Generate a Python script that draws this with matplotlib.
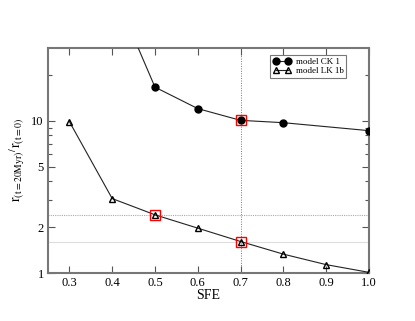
import matplotlib
matplotlib.use("Agg")
import matplotlib.pyplot as plt
from matplotlib.ticker import FixedLocator, NullFormatter

# data
sfe_ck = [0.4, 0.5, 0.6, 0.7, 0.8, 1.0]
ratio_ck = [75.0, 16.6, 12.0, 10.05, 9.7, 8.6]
sfe_lk = [0.3, 0.4, 0.5, 0.6, 0.7, 0.8, 0.9, 1.0]
ratio_lk = [9.85, 3.08, 2.41, 1.97, 1.61, 1.33, 1.135, 1.01]
mark_x = [0.5, 0.7, 0.7]
mark_y = [2.41, 1.61, 10.05]
hline_dotted = 2.41
hline_solid = 1.61
vline_x = 0.7

plt.rcParams["font.family"] = "serif"
plt.rcParams["font.serif"] = ["Liberation Serif"]
plt.rcParams["mathtext.fontset"] = "stix"

fig = plt.figure(figsize=(4.15, 3.21), dpi=100)
ax = fig.add_axes([0.1157, 0.1495, 0.7733, 0.701])

ax.axvline(vline_x, color="#777777", linestyle=(0, (1, 1.5)), linewidth=0.7, zorder=1)
ax.axhline(hline_dotted, color="#aaaaaa", linestyle=(0, (1, 1)), linewidth=0.8, zorder=1)
ax.axhline(hline_solid, color="#dddddd", linewidth=0.8, zorder=1)

ax.plot(sfe_ck, ratio_ck, color="#222222", linewidth=0.8, marker="o", markersize=5,
        markerfacecolor="black", markeredgecolor="black", label="model CK 1", zorder=3)
ax.plot(sfe_lk, ratio_lk, color="#222222", linewidth=0.8, marker="^", markersize=5,
        markerfacecolor="none", markeredgecolor="black", markeredgewidth=1.0,
        label="model LK 1b", zorder=3)
ax.plot(mark_x, mark_y, linestyle="none", marker="s", markersize=7.5,
        markerfacecolor="none", markeredgecolor="red", markeredgewidth=1.0, zorder=4)

ax.set_yscale("log")
ax.set_xlim(0.25, 1.0)
ax.set_ylim(1, 30)
ax.yaxis.set_major_locator(FixedLocator([1, 2, 5, 10]))
ax.yaxis.set_minor_locator(FixedLocator([3, 4, 6, 7, 8, 9, 20]))
ax.yaxis.set_minor_formatter(NullFormatter())
ax.set_yticklabels(["1", "2", "5", "10"])
ax.set_xticks([0.3, 0.4, 0.5, 0.6, 0.7, 0.8, 0.9, 1.0])
ax.set_xticklabels(["0.3", "0.4", "0.5", "0.6", "0.7", "0.8", "0.9", "1.0"])

for s in ax.spines.values():
    s.set_color("#777777")
    s.set_linewidth(1.5)
ax.tick_params(which="both", direction="in", top=True, right=True, color="#555555",
               labelsize=9, pad=3)
ax.tick_params(which="major", length=5, width=0.8)
ax.tick_params(which="minor", length=3, width=0.8)

ax.set_xlabel("SFE", fontsize=10, labelpad=0)
ax.set_ylabel(r"$\mathrm{r}_{(\mathrm{t=20Myr})}{}^{/}\mathrm{r}_{(\mathrm{t=0})}$",
              fontsize=10, labelpad=3)

leg = ax.legend(loc="upper right", numpoints=2, fontsize=6.5, fancybox=False,
                framealpha=1, edgecolor="#777777", handlelength=2.0,
                borderpad=0.3, labelspacing=0.1, handletextpad=0.5,
                bbox_to_anchor=(0.943, 0.99))
leg.get_frame().set_linewidth(0.8)

fig.savefig("out.png", dpi=100)
